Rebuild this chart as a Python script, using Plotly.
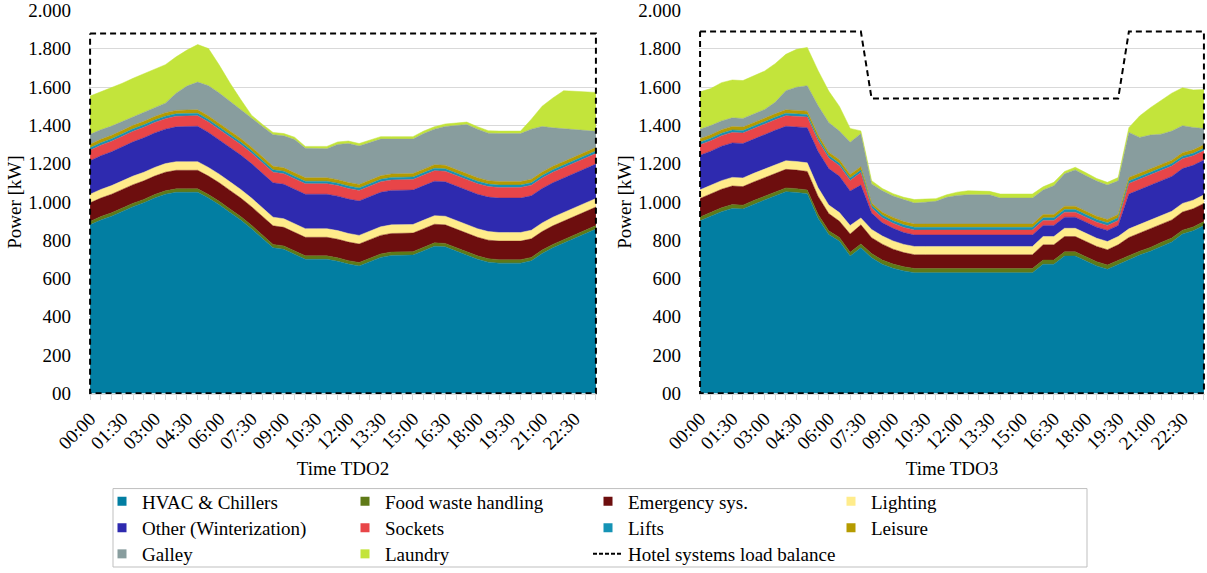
"""Hotel systems load per consumer, two operating days (TDO2 / TDO3), stacked areas."""

import plotly.graph_objects as go

W, H = 1207, 573
FONT = "Liberation Serif"
GRID = "#D9D9D9"

TIMES = [
    "00:00", "00:30", "01:00", "01:30", "02:00", "02:30", "03:00", "03:30",
    "04:00", "04:30", "05:00", "05:30", "06:00", "06:30", "07:00", "07:30",
    "08:00", "08:30", "09:00", "09:30", "10:00", "10:30", "11:00", "11:30",
    "12:00", "12:30", "13:00", "13:30", "14:00", "14:30", "15:00", "15:30",
    "16:00", "16:30", "17:00", "17:30", "18:00", "18:30", "19:00", "19:30",
    "20:00", "20:30", "21:00", "21:30", "22:00", "22:30", "23:00", "23:30",
]
TICK_TEXT = [t if i % 3 == 0 else "" for i, t in enumerate(TIMES)]

Y_TICKS = [0, 200, 400, 600, 800, 1000, 1200, 1400, 1600, 1800, 2000]
Y_TICK_TEXT = ["00", "200", "400", "600", "800", "1.000", "1.200", "1.400",
               "1.600", "1.800", "2.000"]

COLORS = {
    "HVAC & Chillers": "#027EA2",
    "Food waste handling": "#5F7A17",
    "Emergency sys.": "#6D0E0E",
    "Lighting": "#FFEC8B",
    "Other (Winterization)": "#2E2AAF",
    "Sockets": "#E84548",
    "Lifts": "#1593B5",
    "Leisure": "#B59B00",
    "Galley": "#889D9E",
    "Laundry": "#C3E43B",
    "Hotel systems load balance": "#000000",
}

# ---- TDO2 (kW) ----
HVAC_TDO2 = [880, 905, 925, 950, 975, 995, 1020, 1040, 1050, 1050, 1050, 1020,
             985, 945, 905, 860, 812, 760, 752, 728, 700, 700, 700, 690,
             675, 665, 688, 710, 720, 722, 722, 745, 768, 765, 742, 720,
             700, 685, 680, 680, 680, 692, 730, 760, 785, 810, 835, 858]
FOOD_TDO2 = [18, 18, 18, 18, 18, 18, 18, 18, 18, 18, 18, 18,
             18, 18, 18, 18, 18, 18, 18, 18, 18, 18, 18, 18,
             18, 18, 18, 18, 18, 18, 18, 18, 18, 18, 18, 18,
             18, 18, 18, 18, 18, 18, 18, 18, 18, 18, 18, 18]
EMERG_TDO2 = [97, 97, 97, 97, 97, 97, 97, 97, 97, 97, 97, 97,
              97, 97, 97, 97, 97, 97, 97, 97, 97, 97, 97, 97,
              97, 97, 97, 97, 97, 97, 97, 97, 97, 97, 97, 97,
              97, 97, 97, 97, 97, 97, 97, 97, 97, 97, 97, 97]
LIGHT_TDO2 = [45, 45, 45, 45, 45, 45, 45, 45, 45, 45, 45, 45,
              45, 45, 45, 45, 45, 45, 45, 45, 45, 45, 45, 45,
              45, 45, 45, 45, 45, 45, 45, 45, 45, 45, 45, 45,
              45, 45, 45, 45, 45, 45, 45, 45, 45, 45, 45, 45]
OTHER_TDO2 = [175, 176, 177, 178, 179, 180, 180, 180, 182, 184, 185, 183,
              180, 180, 180, 180, 180, 180, 180, 180, 180, 180, 180, 180,
              180, 180, 180, 180, 180, 180, 180, 180, 180, 180, 180, 180,
              180, 180, 180, 180, 180, 180, 180, 180, 180, 180, 180, 180]
SOCKETS_TDO2 = [55, 55, 55, 55, 55, 55, 55, 55, 55, 55, 55, 55,
                55, 55, 55, 55, 55, 55, 55, 55, 55, 55, 55, 55,
                55, 55, 55, 55, 55, 55, 55, 55, 55, 55, 55, 55,
                55, 55, 55, 55, 55, 55, 55, 55, 55, 55, 55, 55]
LIFTS_TDO2 = [13, 13, 13, 13, 13, 13, 13, 13, 13, 13, 13, 13,
              13, 13, 13, 13, 13, 13, 13, 13, 13, 13, 13, 13,
              13, 13, 13, 13, 13, 13, 13, 13, 13, 13, 13, 13,
              13, 13, 13, 13, 13, 13, 13, 13, 13, 13, 13, 13]
LEISURE_TDO2 = [18, 18, 18, 18, 18, 18, 18, 18, 18, 18, 18, 18,
                18, 18, 18, 18, 18, 18, 18, 18, 18, 18, 18, 18,
                18, 18, 18, 18, 18, 18, 18, 18, 18, 18, 18, 18,
                18, 18, 18, 18, 18, 18, 18, 18, 18, 18, 18, 18]
GALLEY_TDO2 = [52, 50, 48, 46, 45, 45, 45, 50, 90, 125, 145, 158,
               158, 155, 152, 154, 156, 165, 167, 172, 154, 152, 152, 184,
               204, 201, 197, 192, 182, 180, 180, 186, 186, 203, 232, 258,
               254, 248, 251, 251, 251, 262, 238, 201, 172, 140, 110, 85]
LAUNDRY_TDO2 = [200, 198, 198, 200, 201, 203, 205, 201, 190, 188, 196, 194,
                146, 95, 52, 13, 12, 12, 12, 12, 10, 12, 12, 13,
                13, 13, 13, 13, 13, 13, 13, 13, 13, 13, 13, 13,
                13, 13, 13, 13, 13, 52, 106, 156, 198, 202, 204, 203]
BALANCE_TDO2 = [1880, 1880, 1880, 1880, 1880, 1880, 1880, 1880, 1880, 1880, 1880, 1880,
                1880, 1880, 1880, 1880, 1880, 1880, 1880, 1880, 1880, 1880, 1880, 1880,
                1880, 1880, 1880, 1880, 1880, 1880, 1880, 1880, 1880, 1880, 1880, 1880,
                1880, 1880, 1880, 1880, 1880, 1880, 1880, 1880, 1880, 1880, 1880, 1880]

# ---- TDO3 (kW) ----
HVAC_TDO3 = [901, 923, 949, 966, 963, 987, 1009, 1032, 1053, 1049, 1042, 915,
             829, 794, 717, 760, 708, 674, 653, 639, 630, 630, 630, 630,
             630, 630, 630, 630, 630, 630, 630, 630, 674, 674, 717, 717,
             691, 665, 648, 674, 699, 722, 742, 768, 791, 832, 849, 877]
FOOD_TDO3 = [20, 20, 20, 20, 20, 20, 20, 20, 20, 20, 20, 20,
             20, 20, 20, 20, 22, 22, 22, 22, 22, 22, 22, 22,
             22, 22, 22, 22, 22, 22, 22, 22, 22, 22, 22, 22,
             22, 22, 22, 22, 20, 20, 20, 20, 20, 20, 20, 20]
EMERG_TDO3 = [97, 97, 97, 97, 97, 97, 97, 97, 97, 97, 97, 95,
              90, 85, 95, 100, 83, 83, 78, 74, 72, 72, 72, 72,
              72, 72, 72, 72, 72, 72, 72, 72, 80, 80, 80, 80,
              80, 80, 80, 80, 95, 95, 95, 95, 95, 95, 95, 95]
LIGHT_TDO3 = [45, 45, 45, 45, 45, 45, 45, 45, 45, 45, 45, 45,
              45, 45, 45, 36, 43, 43, 43, 43, 43, 43, 43, 43,
              43, 43, 43, 43, 43, 43, 43, 43, 43, 43, 43, 43,
              43, 43, 43, 43, 45, 45, 45, 45, 45, 45, 45, 45]
OTHER_TDO3 = [181, 180, 180, 180, 180, 180, 180, 180, 180, 182, 184, 190,
              190, 190, 180, 172, 86, 69, 66, 62, 60, 60, 60, 60,
              60, 60, 60, 60, 60, 60, 60, 60, 58, 58, 58, 58,
              58, 58, 58, 58, 182, 182, 182, 182, 182, 182, 182, 182]
SOCKETS_TDO3 = [55, 55, 55, 55, 55, 55, 55, 55, 55, 55, 55, 55,
                55, 55, 55, 65, 26, 26, 26, 26, 26, 26, 26, 26,
                26, 26, 26, 26, 26, 26, 26, 26, 26, 26, 26, 26,
                26, 26, 26, 26, 55, 55, 55, 55, 54, 52, 50, 48]
LIFTS_TDO3 = [13, 13, 13, 13, 13, 13, 13, 13, 13, 13, 13, 13,
              13, 13, 13, 13, 14, 14, 14, 14, 14, 14, 14, 14,
              14, 14, 14, 14, 14, 14, 14, 14, 14, 14, 14, 14,
              14, 14, 14, 14, 13, 13, 13, 13, 13, 13, 13, 13]
LEISURE_TDO3 = [18, 18, 18, 18, 18, 18, 18, 18, 18, 18, 18, 18,
                18, 18, 18, 18, 12, 15, 17, 17, 17, 17, 17, 17,
                17, 17, 17, 17, 17, 17, 17, 17, 17, 17, 17, 17,
                17, 17, 17, 17, 18, 18, 18, 18, 18, 18, 18, 18]
GALLEY_TDO3 = [50, 48, 46, 45, 45, 45, 45, 60, 100, 120, 133, 152,
               155, 150, 169, 172, 100, 112, 112, 115, 110, 114, 119, 140,
               150, 153, 153, 153, 136, 136, 136, 136, 128, 150, 170, 190,
               185, 184, 180, 176, 236, 187, 179, 158, 152, 141, 117, 85]
LAUNDRY_TDO3 = [195, 193, 200, 198, 198, 198, 201, 202, 190, 198, 200, 184,
                164, 129, 72, 15, 17, 12, 12, 12, 18, 17, 14, 13,
                17, 21, 21, 18, 21, 21, 21, 21, 17, 18, 12, 14,
                16, 13, 14, 17, 25, 112, 143, 176, 198, 198, 196, 204]
BALANCE_TDO3 = [1890, 1890, 1890, 1890, 1890, 1890, 1890, 1890, 1890, 1890, 1890, 1890,
                1890, 1890, 1890, 1890, 1540, 1540, 1540, 1540, 1540, 1540, 1540, 1540,
                1540, 1540, 1540, 1540, 1540, 1540, 1540, 1540, 1540, 1540, 1540, 1540,
                1540, 1540, 1540, 1540, 1890, 1890, 1890, 1890, 1890, 1890, 1890, 1890]

TDO2 = [
    ("HVAC & Chillers", HVAC_TDO2), ("Food waste handling", FOOD_TDO2),
    ("Emergency sys.", EMERG_TDO2), ("Lighting", LIGHT_TDO2),
    ("Other (Winterization)", OTHER_TDO2), ("Sockets", SOCKETS_TDO2),
    ("Lifts", LIFTS_TDO2), ("Leisure", LEISURE_TDO2),
    ("Galley", GALLEY_TDO2), ("Laundry", LAUNDRY_TDO2),
]
TDO3 = [
    ("HVAC & Chillers", HVAC_TDO3), ("Food waste handling", FOOD_TDO3),
    ("Emergency sys.", EMERG_TDO3), ("Lighting", LIGHT_TDO3),
    ("Other (Winterization)", OTHER_TDO3), ("Sockets", SOCKETS_TDO3),
    ("Lifts", LIFTS_TDO3), ("Leisure", LEISURE_TDO3),
    ("Galley", GALLEY_TDO3), ("Laundry", LAUNDRY_TDO3),
]

LEGEND_ROWS = [
    ["HVAC & Chillers", "Food waste handling", "Emergency sys.", "Lighting"],
    ["Other (Winterization)", "Sockets", "Lifts", "Leisure"],
    ["Galley", "Laundry", "Hotel systems load balance"],
]
LEGEND_ROW_Y = [505, 531.5, 558]


def px_x(v):
    return v / W


def px_y(v):
    return (H - v) / H


def add_panel(fig, layers, balance, xa, ya, stack):
    for name, vals in layers:
        fig.add_trace(go.Scatter(
            x=TIMES, y=vals, name=name, mode="lines", stackgroup=stack,
            line=dict(width=0.5, color=COLORS[name]), fillcolor=COLORS[name],
            xaxis=xa, yaxis=ya, showlegend=False))
    # Excel draws the unfilled area's border all round, baseline included
    fig.add_trace(go.Scatter(
        x=TIMES + [TIMES[-1], TIMES[0], TIMES[0]],
        y=balance + [0, 0, balance[0]],
        name="Hotel systems load balance", mode="lines",
        line=dict(color="black", width=2, dash="6px,4px"),
        xaxis=xa, yaxis=ya, showlegend=False))


fig = go.Figure()
add_panel(fig, TDO2, BALANCE_TDO2, "x", "y", "tdo2")
add_panel(fig, TDO3, BALANCE_TDO3, "x2", "y2", "tdo3")

# legend-only entries, one legend per row so the columns line up like Excel
for r, row in enumerate(LEGEND_ROWS):
    lg = "legend" if r == 0 else f"legend{r + 1}"
    for name in row:
        if name == "Hotel systems load balance":
            fig.add_trace(go.Scatter(x=[None], y=[None], name=name, mode="lines",
                                     line=dict(color="black", width=2, dash="4px,2px"),
                                     legend=lg, legendwidth=250))
        else:
            fig.add_trace(go.Scatter(x=[None], y=[None], name=name, mode="markers",
                                     marker=dict(symbol="square", size=9, color=COLORS[name]),
                                     legend=lg))

x_common = dict(type="category", categoryorder="array", categoryarray=TIMES,
                range=[-0.1, 47.1], tickmode="array", tickvals=TIMES, ticktext=TICK_TEXT,
                tickangle=-45, ticks="outside", ticklen=5, tickcolor=GRID,
                showline=True, linecolor=GRID, showgrid=False, automargin=False,
                tickfont=dict(family=FONT, size=19, color="black"))
y_common = dict(range=[-5, 2003], tickmode="array", tickvals=Y_TICKS, ticktext=Y_TICK_TEXT,
                showgrid=True, gridcolor=GRID, zeroline=False, showline=False,
                ticks="", ticklabelstandoff=17, automargin=False,
                tickfont=dict(family=FONT, size=19, color="black"),
                title=dict(text="Power [kW]", font=dict(family=FONT, size=19, color="black"),
                           standoff=1))
y_dom = [px_y(397), px_y(10)]

legend_common = dict(orientation="h", xanchor="left", yanchor="middle",
                     entrywidth=198, entrywidthmode="pixels", traceorder="normal",
                     bgcolor="rgba(0,0,0,0)", borderwidth=0, tracegroupgap=0,
                     font=dict(family=FONT, size=19, color="black"))

fig.update_layout(
    width=W, height=H,
    margin=dict(l=0, r=0, t=0, b=0),
    paper_bgcolor="white", plot_bgcolor="white",
    font=dict(family=FONT, size=19, color="black"),
    xaxis=dict(domain=[px_x(89), px_x(597)], anchor="y",
               title=dict(text="Time TDO2", font=dict(family=FONT, size=19, color="black"),
                          standoff=9),
               **x_common),
    xaxis2=dict(domain=[px_x(699), px_x(1205)], anchor="y2",
                title=dict(text="Time TDO3", font=dict(family=FONT, size=19, color="black"),
                           standoff=9),
                **x_common),
    yaxis=dict(domain=y_dom, anchor="x", **y_common),
    yaxis2=dict(domain=y_dom, anchor="x2", **y_common),
    legend=dict(x=px_x(102), y=px_y(LEGEND_ROW_Y[0]), **legend_common),
    legend2=dict(x=px_x(102), y=px_y(LEGEND_ROW_Y[1]), **legend_common),
    legend3=dict(x=px_x(102), y=px_y(LEGEND_ROW_Y[2]), **legend_common),
    shapes=[dict(type="rect", xref="paper", yref="paper",
                 x0=px_x(113), x1=px_x(1087), y0=px_y(571), y1=px_y(492),
                 line=dict(color="#BFBFBF", width=1), fillcolor="rgba(0,0,0,0)")],
    showlegend=True,
)

# the page body has a default 8px margin; drop it so the figure fills the window
fig.write_html("out.html", config={"displayModeBar": False},
               post_script="document.body.style.margin = '0';")
